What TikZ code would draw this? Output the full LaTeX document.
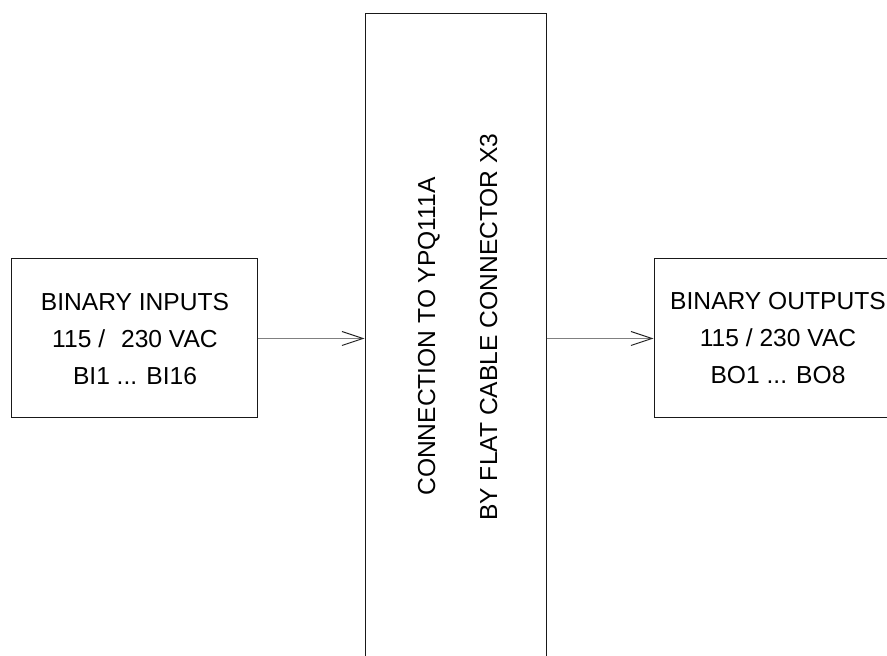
\documentclass[tikz,border=0pt]{standalone}
\usepackage{fontspec}
\setmainfont{Liberation Sans}
\usetikzlibrary{arrows.meta}
\begin{document}
\begin{tikzpicture}[x=1pt,y=1pt,
  box/.style={draw=black!90,line width=1pt,rectangle,inner sep=0pt},
  label/.style={font=\fontsize{24.6pt}{37pt}\selectfont,align=center,inner sep=0pt},
  vlabel/.style={font=\fontsize{24.6pt}{37pt}\selectfont,rotate=90,anchor=base,inner sep=0pt},
  flow/.style={draw=black!50,line width=1pt,-{Straight Barb[length=21pt,width=14pt,line width=1pt,color=black!85]}}]
  \clip (0,0) rectangle (887,656);
  % input block
  \node[box,minimum width=246pt,minimum height=159pt] (bin) at (134,317.5) {};
  \node[label] (bintext) at (135,317) {BINARY INPUTS\\115 /\hspace{16pt}230 VAC\\BI1 ... BI16};
  % ribbon cable interface, runs past the bottom edge
  \node[box,minimum width=181pt,minimum height=660pt] (bus) at (455.5,312) {};
  \node[vlabel] (busA) at (435,319.5) {CONNECTION TO YPQ111A};
  \node[vlabel] (busB) at (497,329) {BY FLAT CABLE CONNECTOR X3};
  % output block, cut by the right edge
  \node[box,minimum width=246pt,minimum height=159pt] (bout) at (777,317.5) {};
  \node[label] (bouttext) at (778,318) {BINARY OUTPUTS\\115 / 230 VAC\\BO1 ... BO8};
  % signal flow
  \draw[flow] (bin.east) -- (bus.west |- bin.east);
  \draw[flow] (bus.east |- bout.west) -- (bout.west);
\end{tikzpicture}
\end{document}
